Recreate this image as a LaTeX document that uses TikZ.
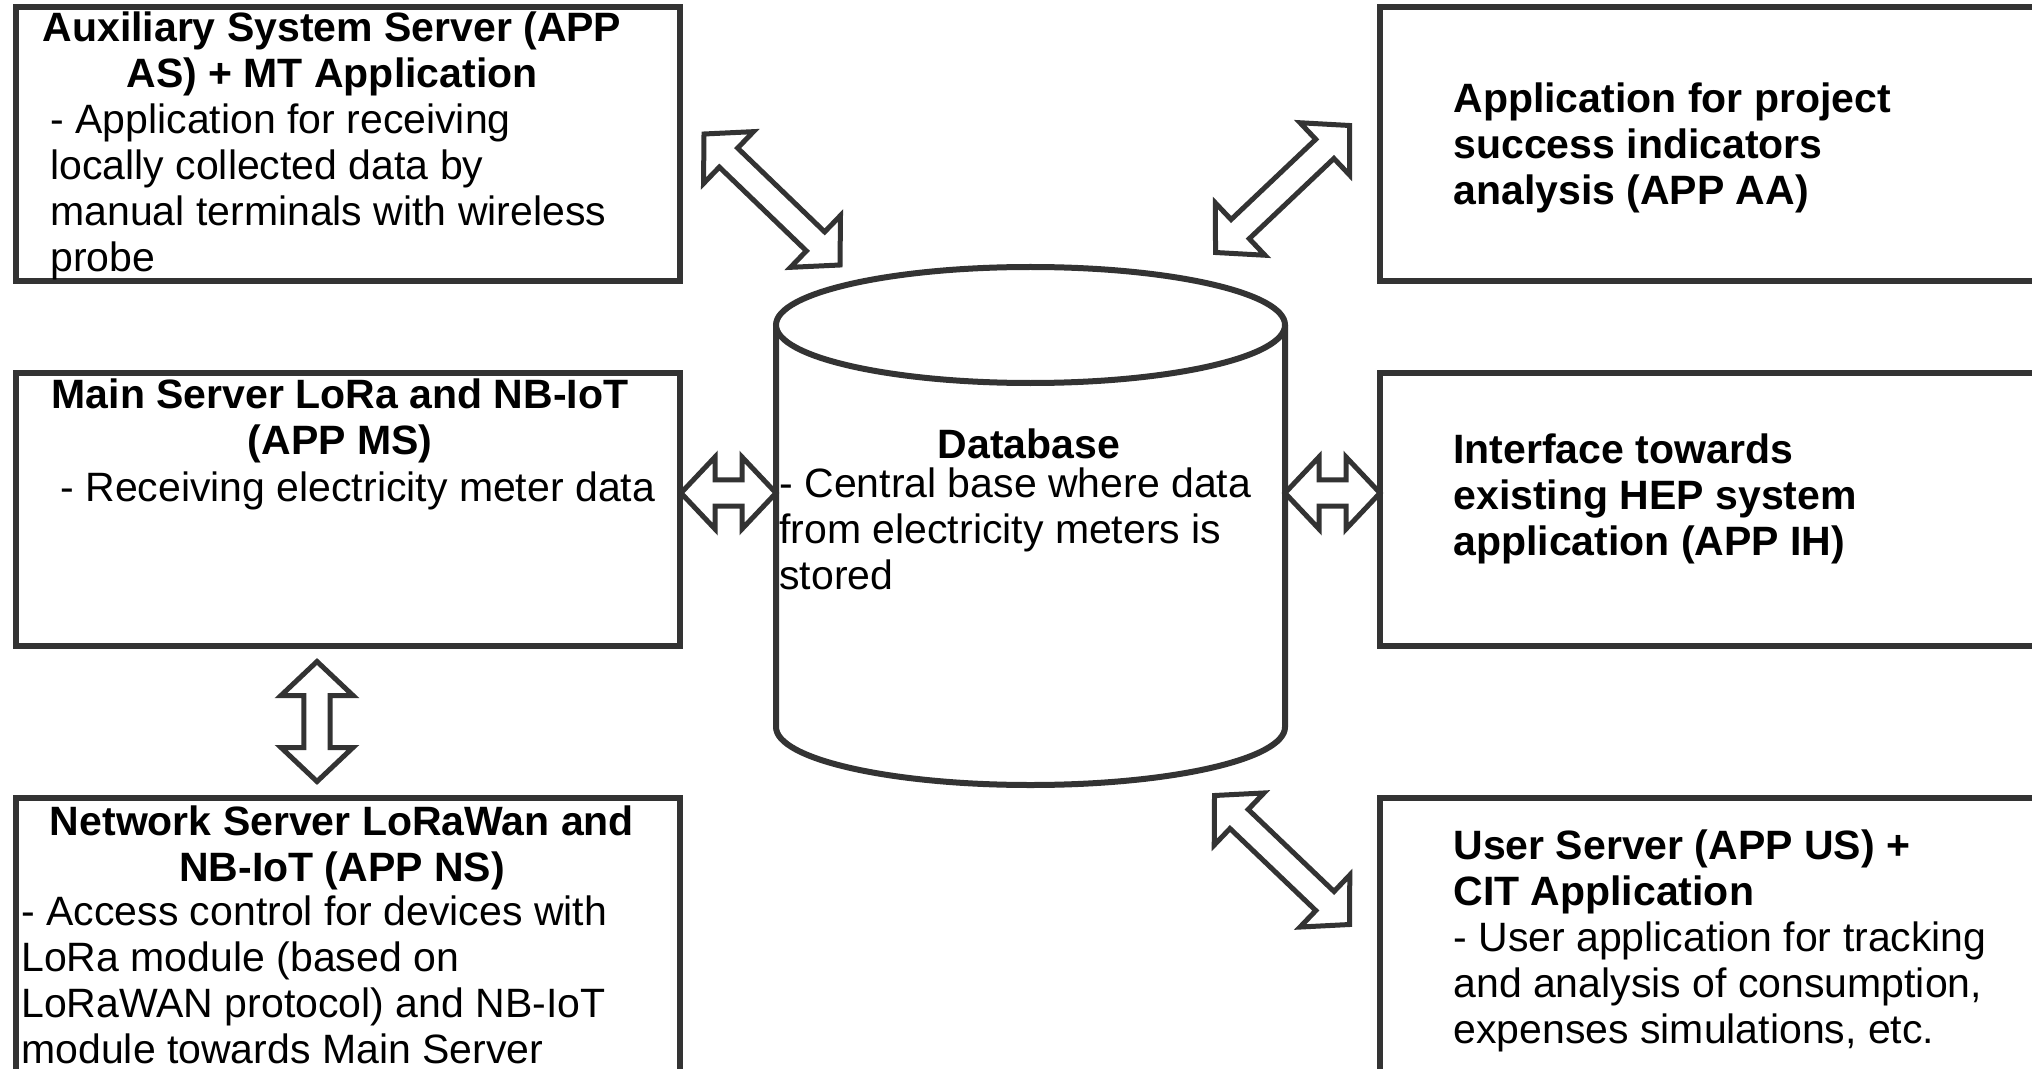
\documentclass[tikz,border=0pt]{standalone}
\usepackage{fontspec}
\setmainfont{Liberation Sans}
\usetikzlibrary{calc,fit}

\definecolor{edge}{HTML}{333333}

% block arrow geometry: head length, head half width, shaft half width
\newcommand\arrhl{17pt}
\newcommand\arrhw{18pt}
\newcommand\arrsw{6.6pt}

\tikzset{
  box/.style={draw=edge, line width=3pt, fill=white, inner sep=0pt},
  txt/.style={inner sep=0pt, text=black, font=\fontsize{20.5pt}{23pt}\selectfont},
  title/.style={txt, font=\fontsize{20.5pt}{23pt}\selectfont\bfseries, align=center},
  body/.style={txt, align=left},
  blockarrow/.style={draw=edge, line width=2.5pt, fill=white, line join=miter,
    to path={let \p1=(\tikztostart), \p2=(\tikztotarget),
      \n1={atan2(\y2-(\y1),\x2-(\x1))} in
      -- ($(\p1)+(\n1:\arrhl)+(\n1+90:\arrhw)$)
      -- ($(\p1)+(\n1:\arrhl)+(\n1+90:\arrsw)$)
      -- ($(\p2)+(\n1+180:\arrhl)+(\n1+90:\arrsw)$)
      -- ($(\p2)+(\n1+180:\arrhl)+(\n1+90:\arrhw)$)
      -- (\p2)
      -- ($(\p2)+(\n1+180:\arrhl)+(\n1-90:\arrhw)$)
      -- ($(\p2)+(\n1+180:\arrhl)+(\n1-90:\arrsw)$)
      -- ($(\p1)+(\n1:\arrhl)+(\n1-90:\arrsw)$)
      -- ($(\p1)+(\n1:\arrhl)+(\n1-90:\arrhw)$)
      -- cycle}},
}

\begin{document}
\begin{tikzpicture}[x=0.5pt, y=-0.5pt]
\path[use as bounding box] (0,0) rectangle (2032,1069);
\fill[white] (0,0) rectangle (2032,1069);
\begin{scope}
\clip (0,0) rectangle (2032,1069);

% application boxes
\node[box, fit={(16,7) (680,281)}] (as) {};
\node[box, fit={(16,373) (680,646)}] (ms) {};
\node[box, fit={(16,798) (680,1100)}] (ns) {};
\node[box, fit={(1380,7) (2070,281)}] (aa) {};
\node[box, fit={(1380,373) (2070,646)}] (ih) {};
\node[box, fit={(1380,798) (2070,1100)}] (us) {};

% database cylinder
\draw[draw=edge, line width=3pt, fill=white]
  (776,325) -- (776,727) arc[start angle=180, end angle=360, x radius=127.25pt, y radius=29pt]
  -- (1285,325);
\draw[draw=edge, line width=3pt, fill=white]
  (1030.5,325) ellipse[x radius=127.25pt, y radius=29pt];

% texts (each node is placed by the baseline of its last line)
\node[title, anchor=base] (as-title) at (332,88) {Auxiliary System Server (APP\\AS) + MT Application};
\node[body, anchor=base west] (as-body) at (50,272) {- Application for receiving\\locally collected data by\\manual terminals with wireless\\probe};

\node[title, anchor=base] (ms-title) at (340,454) {Main Server LoRa and NB-IoT\\(APP MS)};
\node[body, anchor=base west] (ms-body) at (60,501) {- Receiving electricity meter data};

\node[title, anchor=base] (ns-title) at (342,881) {Network Server LoRaWan and\\NB-IoT (APP NS)};
\node[body, anchor=base west] (ns-body) at (21,1063) {- Access control for devices with\\LoRa module (based on\\LoRaWAN protocol) and NB-IoT\\module towards Main Server};

\node[title, anchor=base] (db-title) at (1029,458) {Database};
\node[body, anchor=base west] (db-body) at (779,589) {- Central base where data\\from electricity meters is\\stored};

\node[title, align=left, anchor=base west] (aa-text) at (1453,205) {Application for project\\success indicators\\analysis (APP AA)};
\node[title, align=left, anchor=base west] (ih-text) at (1453,555) {Interface towards\\existing HEP system\\application (APP IH)};
\node[title, align=left, anchor=base west] (us-title) at (1453,905) {User Server (APP US) +\\CIT Application};
\node[body, anchor=base west] (us-body) at (1453,1043) {- User application for tracking\\and analysis of consumption,\\expenses simulations, etc.};

% arrow end points
\coordinate (as-db1) at (704,134);
\coordinate (as-db2) at (840,265);
\coordinate (aa-db1) at (1349.5,125.5);
\coordinate (aa-db2) at (1215.5,252.5);
\coordinate (us-db1) at (1214.5,795.5);
\coordinate (us-db2) at (1349.5,924.5);
\coordinate (ms-db1) at (681,493);
\coordinate (ms-db2) at (776,493);
\coordinate (ih-db1) at (1285,493);
\coordinate (ih-db2) at (1380,493);
\coordinate (ms-ns1) at (317,661.5);
\coordinate (ms-ns2) at (317,781.5);

% two-way block arrows
\draw[blockarrow] (as-db1) to (as-db2);
\draw[blockarrow] (aa-db1) to (aa-db2);
\draw[blockarrow] (us-db1) to (us-db2);
\draw[blockarrow] (ms-db1) to (ms-db2);
\draw[blockarrow] (ih-db1) to (ih-db2);
\draw[blockarrow] (ms-ns1) to (ms-ns2);
\end{scope}
\end{tikzpicture}
\end{document}
